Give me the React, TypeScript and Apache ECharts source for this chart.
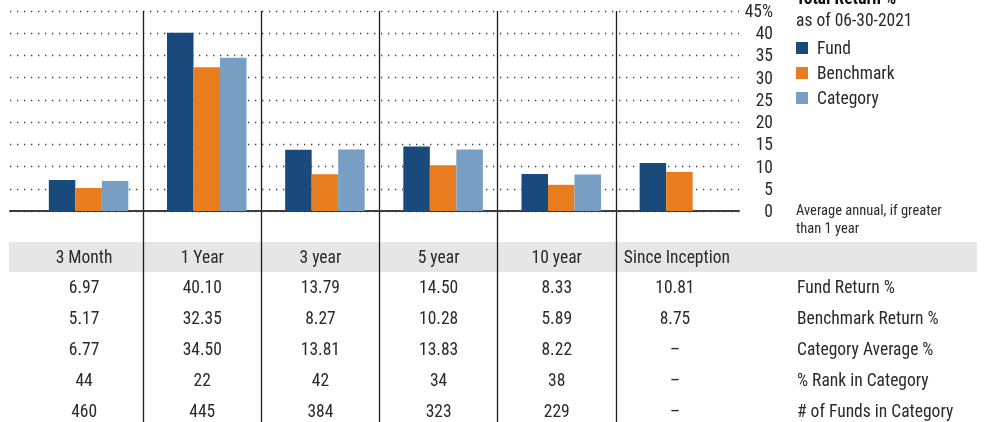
import React, { useEffect, useRef } from "react";
import * as echarts from "echarts";

const categories = ["3 Month", "1 Year", "3 year", "5 year", "10 year", "Since Inception"];
const fundReturn: (number | null)[] = [6.97, 40.1, 13.79, 14.5, 8.33, 10.81];
const benchmarkReturn: (number | null)[] = [5.17, 32.35, 8.27, 10.28, 5.89, 8.75];
const categoryAverage: (number | null)[] = [6.77, 34.5, 13.81, 13.83, 8.22, null];
const rankInCategory = ["44", "22", "42", "34", "38", "–"];
const fundsInCategory = ["460", "445", "384", "323", "229", "–"];
const rowLabels = [
  "Fund Return %",
  "Benchmark Return %",
  "Category Average %",
  "% Rank in Category",
  "# of Funds in Category",
];
const seriesNames = ["Fund", "Benchmark", "Category"];
const colors = ["#1a4a7c", "#e87d1f", "#789ec4"];
const yMin = 0;
const yMax = 45;
const yInterval = 5;

const FONT = "'Liberation Sans Narrow', 'Arial Narrow', 'Roboto Condensed', 'DejaVu Sans Condensed', sans-serif";
const TEXT = "#2a2a2a";

const fmt = (v: number | null) => (v == null ? "–" : v.toFixed(2));

export default function App() {
  const ref = useRef<HTMLDivElement>(null);
  useEffect(() => {
    if (!ref.current) return;
    const chart = echarts.init(ref.current, null, { renderer: "svg" });
    const option: any = {
      animation: false,
      color: colors,
      textStyle: { fontFamily: FONT },
      legend: {
        orient: "vertical",
        left: 796,
        top: 39,
        padding: 0,
        itemWidth: 12,
        itemHeight: 12,
        itemGap: 7,
        icon: "rect",
        selectedMode: false,
        data: seriesNames,
        textStyle: { fontFamily: FONT, fontSize: 17.5, color: TEXT, lineHeight: 18, padding: [0, 0, 0, 4] },
      },
      grid: [
        { left: 10, top: 11, width: 729, height: 200 },
        { left: 29.5, top: 11, width: 709, height: 200 },
        { left: 25, top: 11, width: 709, height: 411 },
      ],
      xAxis: [
        {
          gridIndex: 0,
          type: "value",
          min: 0,
          max: 1,
          axisLabel: { show: false },
          axisTick: { show: false },
          splitLine: { show: false },
          axisLine: { show: true, lineStyle: { color: "#3c3c3c", width: 2 } },
        },
        {
          gridIndex: 1,
          type: "category",
          data: categories,
          show: false,
        },
        {
          gridIndex: 2,
          type: "category",
          data: categories,
          boundaryGap: true,
          axisLine: { show: false },
          axisTick: { show: false },
          axisLabel: { show: false },
          splitLine: {
            show: true,
            showMinLine: false,
            showMaxLine: false,
            lineStyle: { color: "#1e1e1e", width: 1.3 },
          },
        },
      ],
      yAxis: [
        {
          gridIndex: 0,
          type: "value",
          position: "right",
          min: yMin,
          max: yMax,
          interval: yInterval,
          axisLine: { show: false },
          axisTick: { show: false },
          axisLabel: {
            align: "right",
            margin: 34,
            fontFamily: FONT,
            fontSize: 17.5,
            color: TEXT,
            formatter: (v: number) => (v === yMax ? `${v}%` : `${v}`),
          },
          splitLine: {
            show: true,
            lineStyle: { color: "#3a3a3a", width: 1.3, type: [1.3, 5.7] },
          },
        },
        { gridIndex: 1, type: "value", min: yMin, max: yMax, interval: yInterval, show: false },
        { gridIndex: 2, type: "value", min: 0, max: 1, show: false },
      ],
      series: [fundReturn, benchmarkReturn, categoryAverage].map((d, i) => ({
        type: "bar",
        name: seriesNames[i],
        xAxisIndex: 1,
        yAxisIndex: 1,
        data: d,
        barWidth: 26.5,
        barGap: "0%",
        itemStyle: { color: colors[i] },
        z: 1,
      })),
    };
    chart.setOption(option);

    const centers = categories.map((c) => chart.convertToPixel({ xAxisIndex: 2 }, c) as number);
    const band = centers[1] - centers[0];
    const headerY = 257;
    const rowY0 = 287;
    const rowPitch = 31;
    const rows: string[][] = [
      fundReturn.map(fmt),
      benchmarkReturn.map(fmt),
      categoryAverage.map(fmt),
      rankInCategory,
      fundsInCategory,
    ];
    const g: any[] = [];
    g.push({
      type: "rect",
      z: -10,
      shape: { x: 9, y: 242, width: 968, height: 30 },
      style: { fill: "#e6e6e6" },
    });
    categories.forEach((c, i) => {
      const last = i === categories.length - 1;
      g.push({
        type: "text",
        x: last ? centers[i] - band / 2 + 8 : centers[i],
        y: headerY,
        style: {
          text: c,
          fontFamily: FONT,
          fontSize: 17.5,
          fill: TEXT,
          align: last ? "left" : "center",
          verticalAlign: "middle",
        },
      });
    });
    rows.forEach((r, ri) => {
      r.forEach((v, ci) => {
        g.push({
          type: "text",
          x: centers[ci],
          y: rowY0 + ri * rowPitch,
          style: { text: v, fontFamily: FONT, fontSize: 17.5, fill: TEXT, align: "center", verticalAlign: "middle" },
        });
      });
      g.push({
        type: "text",
        x: 797,
        y: rowY0 + ri * rowPitch,
        style: { text: rowLabels[ri], fontFamily: FONT, fontSize: 17.5, fill: TEXT, align: "left", verticalAlign: "middle" },
      });
    });
    g.push({
      type: "text",
      x: 796,
      y: -2,
      style: { text: "Total Return %", fontFamily: FONT, fontSize: 17.5, fontWeight: "bold", fill: "#111", align: "left", verticalAlign: "middle" },
    });
    g.push({
      type: "text",
      x: 796,
      y: 20,
      style: { text: "as of 06-30-2021", fontFamily: FONT, fontSize: 17.5, fill: TEXT, align: "left", verticalAlign: "middle" },
    });
    g.push({
      type: "text",
      x: 796,
      y: 210,
      style: { text: "Average annual, if greater", fontFamily: FONT, fontSize: 14.5, fill: TEXT, align: "left", verticalAlign: "middle" },
    });
    g.push({
      type: "text",
      x: 796,
      y: 228,
      style: { text: "than 1 year", fontFamily: FONT, fontSize: 14.5, fill: TEXT, align: "left", verticalAlign: "middle" },
    });
    chart.setOption({ graphic: g });

    return () => chart.dispose();
  }, []);
  return <div ref={ref} style={{ position: "fixed", left: 0, top: 0, width: 987, height: 422 }} />;
}
